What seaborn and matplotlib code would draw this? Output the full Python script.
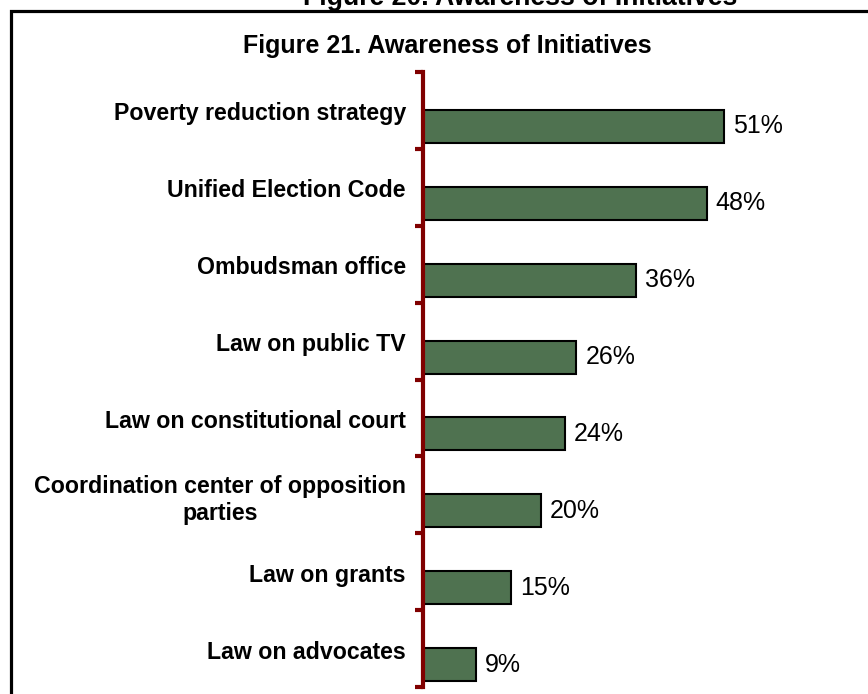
import matplotlib
matplotlib.use("Agg")
import matplotlib.pyplot as plt
import matplotlib.transforms as mtransforms
from matplotlib.patches import Rectangle
import seaborn as sns

# data
initiatives = ["Poverty reduction strategy", "Unified Election Code", "Ombudsman office",
               "Law on public TV", "Law on constitutional court",
               "Coordination center of opposition\nparties", "Law on grants", "Law on advocates"]
awareness = [51, 48, 36, 26, 24, 20, 15, 9]

sns.set_style("white")
plt.rcParams["font.family"] = ["Liberation Sans", "DejaVu Sans"]
plt.rcParams["text.color"] = "black"
plt.rcParams["ytick.labelcolor"] = "black"

W, H = 868, 694
fig = plt.figure(figsize=(W / 100, H / 100), dpi=100)

# axes placed in pixel terms of the reference
left, right, top, bottom = 422.5, 422.5 + 60 * 5.92, 72, 687
ax = fig.add_axes([left / W, 1 - bottom / H, (right - left) / W, (bottom - top) / H])

sns.barplot(x=awareness, y=initiatives, orient="h", color="#4F7250",
            edgecolor="black", linewidth=1.5, width=0.43, saturation=1, ax=ax)

ax.set_xlim(0, 60)
ax.set_ylim(7.292, -0.708)
ax.set_xlabel("")
ax.set_ylabel("")
ax.set_xticks([])

for s in ["top", "right", "bottom"]:
    ax.spines[s].set_visible(False)
ax.spines["left"].set_color("#800000")
ax.spines["left"].set_linewidth(3)
ax.spines["left"].set_zorder(5)

# category tick labels, shifted up a bit
ax.tick_params(axis="y", which="major", length=0, pad=12, labelcolor="black")
off = mtransforms.ScaledTranslation(0, 15 / 100, fig.dpi_scale_trans)
for lab in ax.get_yticklabels():
    lab.set_fontsize(16.7)
    lab.set_fontweight("bold")
    lab.set_color("black")
    lab.set_multialignment("center")
    lab.set_transform(lab.get_transform() + off)

# boundary ticks on the axis
ax.set_yticks([i - 0.708 for i in range(9)], minor=True)
ax.tick_params(axis="y", which="minor", left=True, length=6, width=3, color="#800000")

ax.bar_label(ax.containers[0], fmt="%d%%", padding=6.5, fontsize=18, color="black")

fig.text(447 / W, 1 - 53 / H, "Figure 21. Awareness of Initiatives",
         ha="center", va="baseline", fontsize=18, fontweight="bold")
fig.text(520 / W, 1 - 5 / H, "Figure 20. Awareness of Initiatives",
         ha="center", va="baseline", fontsize=19.2, fontweight="bold")

# frame of the pasted figure (top and left edges visible)
fig.add_artist(Rectangle((11 / W, -0.1), 2, 1.1 - 11.5 / H, transform=fig.transFigure,
                         fill=False, edgecolor="black", linewidth=2.3, clip_on=False))

fig.savefig("out.png", dpi=100)
